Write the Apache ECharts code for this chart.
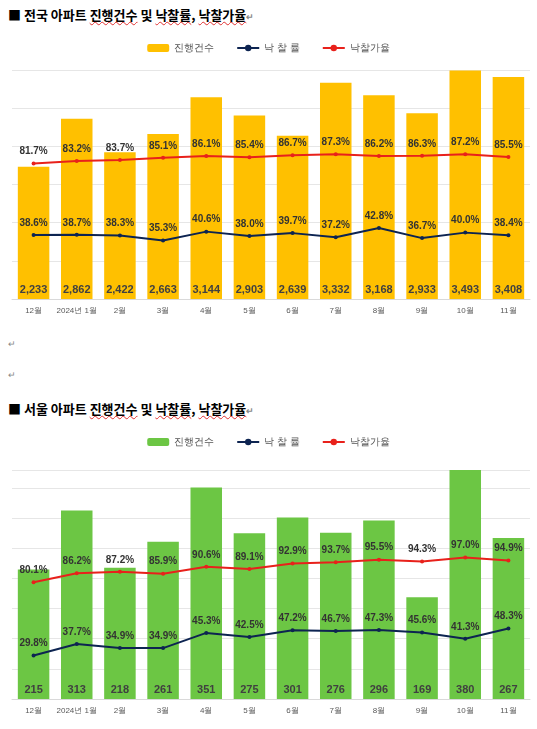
<!DOCTYPE html>
<html><head><meta charset="utf-8">
<script src="https://cdn.jsdelivr.net/npm/echarts@6/dist/echarts.min.js"></script>
<style>
body{margin:0;background:#fff;font-family:"Noto Sans CJK KR",sans-serif;}
.t{position:absolute;left:8px;font-size:13px;font-weight:bold;color:#000;}
.t u{text-decoration:underline wavy #e03030;text-decoration-thickness:1px;}
.m{position:absolute;font-size:9px;color:#888;}
#c1{position:absolute;left:0;top:34px;width:537px;height:295px;}
#c2{position:absolute;left:0;top:428px;width:537px;height:301px;}
</style></head><body>
<div class="t" style="top:5px">■ 전국 아파트 <u>진행건수</u> 및 <u>낙찰률</u>, <u>낙찰가율</u><span style="font-size:9px;color:#888">↵</span></div>
<div class="m" style="left:8px;top:337px">↵</div>
<div class="m" style="left:8px;top:368px">↵</div>
<div class="t" style="top:399px">■ 서울 아파트 <u>진행건수</u> 및 <u>낙찰률</u>, <u>낙찰가율</u><span style="font-size:9px;color:#888">↵</span></div>
<div id="c1"></div><div id="c2"></div>
<script>
const months = ['12월','2024년 1월','2월','3월','4월','5월','6월','7월','8월','9월','10월','11월'];
const natCount = [2233,2862,2422,2663,3144,2903,2639,3332,3168,2933,3493,3408];
const natRate = [38.6,38.7,38.3,35.3,40.6,38.0,39.7,37.2,42.8,36.7,40.0,38.4];
const natPrice = [81.7,83.2,83.7,85.1,86.1,85.4,86.7,87.3,86.2,86.3,87.2,85.5];
const seoCount = [215,313,218,261,351,275,301,276,296,169,380,267];
const seoRate = [29.8,37.7,34.9,34.9,45.3,42.5,47.2,46.7,47.3,45.6,41.3,48.3];
const seoPrice = [80.1,86.2,87.2,85.9,90.6,89.1,92.9,93.7,95.5,94.3,97.0,94.9];

function opt(count, rate, price, color, yMin, yMax, yInt, rMax, top) {
  const lbl = {show:true,position:'top',fontSize:10,fontWeight:'bold',color:'#333',formatter:p=>p.value.toFixed(1)+'%'};
  return {
    animation:false,
    legend:{top:4,left:'center',itemGap:22,itemWidth:22,itemHeight:8,textStyle:{fontSize:10,color:'#555'},
      data:['진행건수','낙 찰 률','낙찰가율']},
    grid:{left:12,right:7,top:top,bottom:30},
    xAxis:{type:'category',data:months,axisTick:{show:false},axisLine:{lineStyle:{color:'#d9d9d9'}},
      axisLabel:{fontSize:8,color:'#595959',interval:0}},
    yAxis:[{type:'value',min:yMin,max:yMax,interval:yInt,axisLabel:{show:false},axisLine:{show:false},axisTick:{show:false},
      splitLine:{lineStyle:{color:'#e6e6e6'}}},
      {type:'value',min:0,max:rMax,show:false,splitLine:{show:false}}],
    series:[
      {name:'진행건수',type:'bar',data:count,barWidth:'73%',itemStyle:{color:color},
        label:{show:true,position:'insideBottom',distance:4,fontSize:11,fontWeight:'bold',color:'#404040',
          formatter:p=>p.value.toLocaleString('en-US')}},
      {name:'낙 찰 률',type:'line',yAxisIndex:1,data:rate,symbol:'circle',symbolSize:4,
        lineStyle:{color:'#0d2451',width:2},itemStyle:{color:'#0d2451'},label:lbl},
      {name:'낙찰가율',type:'line',yAxisIndex:1,data:price,symbol:'circle',symbolSize:4,
        lineStyle:{color:'#e8211b',width:2},itemStyle:{color:'#e8211b'},label:lbl}
    ]
  };
}
echarts.init(document.getElementById('c1')).setOption(opt(natCount,natRate,natPrice,'#ffc000',500,3500,500,138,36));
echarts.init(document.getElementById('c2')).setOption(opt(seoCount,seoRate,seoPrice,'#6cc644',0,380,50,157,42));
</script></body></html>
